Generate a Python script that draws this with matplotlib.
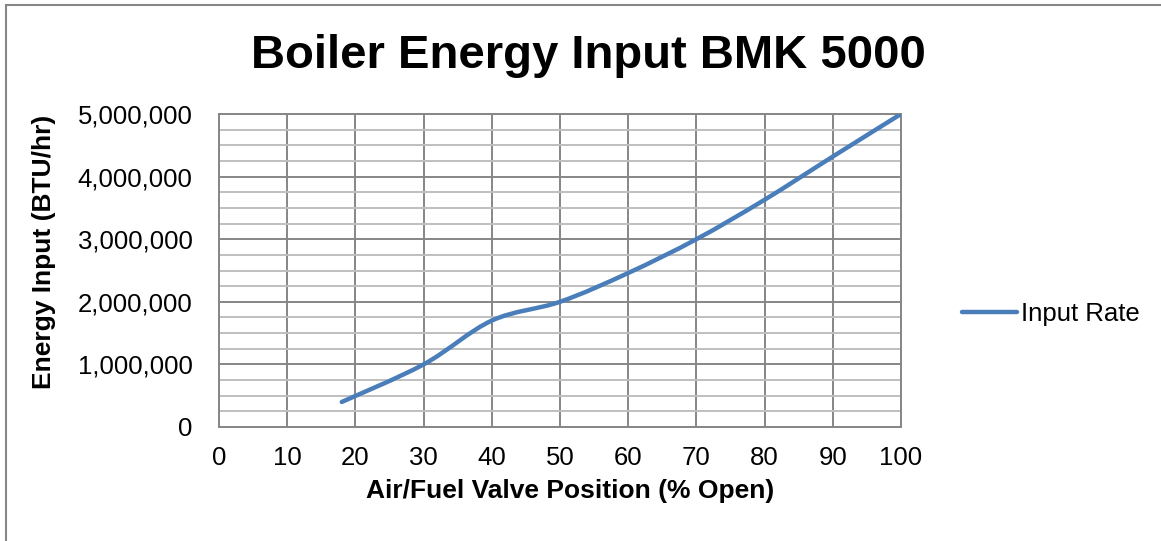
import matplotlib
matplotlib.use("Agg")
import matplotlib.pyplot as plt
from matplotlib.ticker import FuncFormatter, MultipleLocator
from matplotlib.patches import Rectangle, PathPatch
from matplotlib.path import Path
from matplotlib.lines import Line2D

valve_position = [18, 30, 40, 50, 60, 70, 80, 90, 100]
input_rate = [400000, 1000000, 1700000, 2000000, 2460000, 3000000, 3630000, 4320000, 5000000]

plt.rcParams['font.family'] = ['Liberation Sans', 'DejaVu Sans']
LINE_COLOR = '#4a7ebb'

fig = plt.figure(figsize=(11.61, 5.41), dpi=100)
ax = fig.add_axes([219/1161, 1-427/541, (901-219)/1161, (427-114)/541])

# smoothed line (Excel-style Catmull-Rom Bezier through the data points)
pts = list(zip(valve_position, input_rate))
verts = [pts[0]]
codes = [Path.MOVETO]
n = len(pts)
for i in range(n - 1):
    p0 = pts[i - 1] if i > 0 else pts[i]
    p1 = pts[i]
    p2 = pts[i + 1]
    p3 = pts[i + 2] if i + 2 < n else pts[i + 1]
    c1 = (p1[0] + (p2[0] - p0[0]) / 6, p1[1] + (p2[1] - p0[1]) / 6)
    c2 = (p2[0] - (p3[0] - p1[0]) / 6, p2[1] - (p3[1] - p1[1]) / 6)
    verts += [c1, c2, p2]
    codes += [Path.CURVE4] * 3
ax.add_patch(PathPatch(Path(verts, codes), fill=False, edgecolor=LINE_COLOR, lw=3.2,
                       capstyle='round', joinstyle='round', zorder=3,
                       transform=ax.transData))

ax.set_xlim(0, 100)
ax.set_ylim(0, 5000000)
ax.xaxis.set_major_locator(MultipleLocator(10))
ax.yaxis.set_major_locator(MultipleLocator(1000000))
ax.yaxis.set_minor_locator(MultipleLocator(250000))
ax.yaxis.set_major_formatter(FuncFormatter(lambda v, p: f"{int(v):,}"))
ax.grid(which='major', color='#868686', lw=1.4)
ax.grid(which='minor', axis='y', color='#bfbfbf', lw=1.4)
ax.tick_params(which='both', length=0, labelsize=18.5)
ax.tick_params(axis='y', pad=19)
ax.tick_params(axis='x', pad=14)
for s in ax.spines.values():
    s.set_color('#868686')
    s.set_linewidth(1.4)

fig.text(570/1161, 1-491/541, 'Air/Fuel Valve Position (% Open)', fontsize=19,
         fontweight='bold', ha='center', va='center')
fig.text(44/1161, 1-252/541, 'Energy Input (BTU/hr)', fontsize=19, fontweight='bold',
         ha='center', va='center', rotation=90)
fig.text(588/1161, 1-56/541, 'Boiler Energy Input BMK 5000', fontsize=34, fontweight='bold',
         ha='center', va='center')

handle = Line2D([], [], color=LINE_COLOR, lw=3.2, solid_capstyle='round')
fig.legend([handle], ['Input Rate'], loc='center left',
           bbox_to_anchor=(962/1161, 1-314/541), frameon=False, borderaxespad=0,
           borderpad=0, fontsize=18.5, handlelength=2.15, handletextpad=0.15)

fig.patches.append(Rectangle((6/1161, -0.1), 1.1, 1.1 - 5/541, transform=fig.transFigure,
                             fill=False, edgecolor='#868686', lw=1.5))

fig.savefig('out.png', dpi=100)
